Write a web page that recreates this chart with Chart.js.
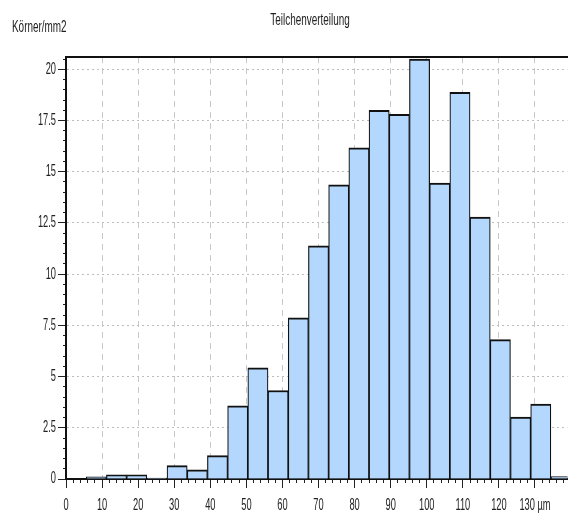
<!DOCTYPE html>
<html><head><meta charset="utf-8">
<script src="https://cdn.jsdelivr.net/npm/chart.js@4.4.1/dist/chart.umd.min.js"></script>
<style>
html,body{margin:0;padding:0;background:#fff;overflow:hidden;}
#wrap{position:relative;width:570px;height:514px;}
canvas{position:absolute;left:0;top:0;}
.t{position:absolute;font-family:'Liberation Sans',Arial,sans-serif;font-size:16px;line-height:16px;color:#222;white-space:nowrap;transform:scaleX(0.62);}
</style></head><body>
<div id="wrap">
<canvas id="c" width="570" height="514"></canvas>
<div class="t" style="left:310px;top:12px;transform:translateX(-50%) scaleX(0.62);">Teilchenverteilung</div>
<div class="t" style="left:12px;top:19px;transform-origin:0 0;">Körner/mm2</div>
</div>
<script>
// bin centres (µm), bin width 5.6 µm
const binCenters = [8.4, 14, 19.6, 25.2, 30.8, 36.4, 42, 47.6, 53.2, 58.8, 64.4, 70, 75.6, 81.2, 86.8, 92.4, 98, 103.6, 109.2, 114.8, 120.4, 126, 131.6, 137.2];
const counts = [0.1, 0.2, 0.2, 0.05, 0.65, 0.45, 1.14, 3.57, 5.43, 4.32, 7.87, 11.38, 14.36, 16.17, 18.0, 17.8, 20.5, 14.44, 18.88, 12.78, 6.8, 3.02, 3.66, 0.12];
const xTickValues = [0, 10, 20, 30, 40, 50, 60, 70, 80, 90, 100, 110, 120, 130];
const xTickLabels = ['0', '10', '20', '30', '40', '50', '60', '70', '80', '90', '100', '110', '120', '130 µm'];
const yTickValues = [0, 2.5, 5, 7.5, 10, 12.5, 15, 17.5, 20];
const yTickLabels = ['0', '2.5', '5', '7.5', '10', '12.5', '15', '17.5', '20'];

const FONT = {family: "'Liberation Sans', Arial, sans-serif", size: 16};
const near = (a, b) => Math.abs(a - b) < 1e-6;

// condensed look for canvas text (the reference uses a narrow face)
const cv = document.getElementById('c');
const c2 = cv.getContext('2d');
const origFill = c2.fillText.bind(c2);
c2.fillText = function (t, x, y, mw) {
  this.save();
  this.translate(x, y);
  this.scale(0.58, 1);
  if (mw !== undefined) origFill(t, 0, 0, mw); else origFill(t, 0, 0);
  this.restore();
};

const points = binCenters.map((x, i) => ({x: x, y: counts[i]}));

new Chart(cv, {
  type: 'bar',
  data: {
    datasets: [{
      data: points,
      backgroundColor: '#b4d8fd',
      borderColor: '#111',
      borderWidth: {top: 2, left: 1.2, right: 1.2, bottom: 0},
      borderSkipped: false,
      barPercentage: 1,
      categoryPercentage: 1,
      xAxisID: 'x',
      yAxisID: 'y'
    }]
  },
  options: {
    responsive: false,
    animation: false,
    layout: {padding: {top: 57, left: 0, right: 0, bottom: 0}},
    plugins: {legend: {display: false}, tooltip: {enabled: false}, title: {display: false}},
    scales: {
      x: {
        type: 'linear', position: 'bottom', weight: 1, min: 0, max: 139, offset: false,
        ticks: {
          stepSize: 10, includeBounds: false, autoSkip: false, maxRotation: 0, padding: 8,
          font: FONT, color: '#222',
          callback: (v) => { const i = xTickValues.findIndex(t => near(t, v)); return i >= 0 ? xTickLabels[i] : ''; }
        },
        grid: {
          offset: false, tickLength: 9, tickColor: '#222',
          color: (ctx) => (ctx.tick && near(ctx.tick.value, 0)) ? 'rgba(0,0,0,0)' : '#c8c8c8'
        },
        border: {display: true, color: '#111', width: 2, dash: [6, 5]},
        afterFit: (s) => { s.height = 35; }
      },
      xm: {
        type: 'linear', position: 'bottom', weight: 0, min: 0, max: 139, offset: false,
        ticks: {stepSize: 2, includeBounds: false, display: false, autoSkip: false},
        grid: {offset: false, drawOnChartArea: false, color: 'rgba(0,0,0,0)', tickColor: '#222', tickLength: 4},
        border: {display: false},
        afterFit: (s) => { s.height = 0; }
      },
      xt: {
        type: 'linear', position: 'top', weight: 0, min: 0, max: 139, offset: false,
        ticks: {display: false},
        grid: {drawOnChartArea: false, drawTicks: false},
        border: {display: true, color: '#111', width: 2},
        afterFit: (s) => { s.height = 0; }
      },
      y: {
        type: 'linear', position: 'left', weight: 1, min: 0, max: 20.6,
        ticks: {
          stepSize: 2.5, includeBounds: false, autoSkip: false, padding: 2,
          font: FONT, color: '#222',
          callback: (v) => { const i = yTickValues.findIndex(t => near(t, v)); return i >= 0 ? yTickLabels[i] : ''; }
        },
        grid: {
          tickLength: 8, tickColor: '#222',
          color: (ctx) => (ctx.tick && near(ctx.tick.value, 0)) ? 'rgba(0,0,0,0)' : '#bdbdbd'
        },
        border: {display: true, color: '#111', width: 2, dash: [2, 3]},
        afterFit: (s) => { s.width = 66; }
      },
      ym: {
        type: 'linear', position: 'left', weight: 0, min: 0, max: 20.6,
        ticks: {stepSize: 0.5, includeBounds: false, display: false, autoSkip: false},
        grid: {drawOnChartArea: false, color: 'rgba(0,0,0,0)', tickColor: '#222', tickLength: 3},
        border: {display: false},
        afterFit: (s) => { s.width = 0; }
      }
    }
  }
});
</script>
</body></html>
